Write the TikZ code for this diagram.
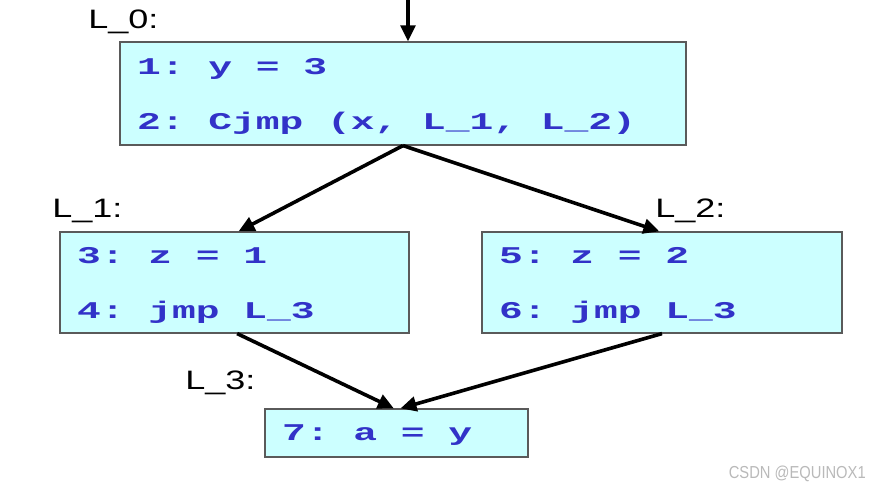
\documentclass[tikz,border=0pt]{standalone}
\usepackage{fontspec}
\usetikzlibrary{arrows.meta}
\newfontfamily\codefont[FakeStretch=1.65]{Liberation Mono}
\newfontfamily\labelfont[FakeStretch=1.35]{Liberation Sans}
\newfontfamily\markfont[FakeStretch=0.85]{Liberation Sans}
\definecolor{boxfill}{RGB}{204,255,255}
\definecolor{boxline}{RGB}{90,90,90}
\definecolor{codeblue}{RGB}{50,50,200}
\definecolor{markgray}{RGB}{185,185,185}
% fixed line height / depth inside the blocks
\newcommand\linetop{\rule{0pt}{20pt}}
\newcommand\linebot[1][7pt]{\rule[-#1]{0pt}{#1}}
% one monospace cell of blank
\newcommand\codesp{\hspace*{17.82pt}}
\tikzset{
  block/.style = {draw = boxline, fill = boxfill, line width = .9pt,
                  align = left, inner xsep = 12.75pt, inner ysep = 0pt,
                  text = codeblue,
                  font = \codefont\bfseries\fontsize{18}{41.25}\selectfont},
  lbl/.style = {anchor = west, inner sep = 0pt,
                font = \labelfont\fontsize{20}{24}\selectfont},
  flow/.style = {-{Triangle[length = 12pt, width = 11pt]}, line width = 2.7pt}
}
\begin{document}
\begin{tikzpicture}[x = .75pt, y = -.75pt]
  \useasboundingbox (0,0) rectangle (869,491);
  % basic blocks
  \node [block, text width = 399pt, minimum height = 77.25pt] (b0) at (403,93.5)
    {\linetop 1:\codesp y\codesp =\codesp 3\\
     2:\codesp Cjmp\codesp (x,\codesp L\_1,\codesp L\_2)\linebot};
  \node [block, text width = 236.25pt, minimum height = 75.75pt] (b1) at (234.5,282.5)
    {\linetop 3:\codesp z\codesp =\codesp 1\\4:\codesp jmp\codesp L\_3\linebot};
  \node [block, text width = 244.5pt, minimum height = 75.75pt] (b2) at (662,282.5)
    {\linetop 5:\codesp z\codesp =\codesp 2\\6:\codesp jmp\codesp L\_3\linebot};
  \node [block, text width = 171.75pt, minimum height = 36pt] (b3) at (396.5,433)
    {\linetop 7:\codesp a\codesp =\codesp y\linebot[8.75pt]};
  % labels
  \node [lbl] (l0) at (88,22) {L\_0:};
  \node [lbl] (l1) at (52,211) {L\_1:};
  \node [lbl] (l2) at (655,211) {L\_2:};
  \node [lbl] (l3) at (185,383) {L\_3:};
  % edges
  \coordinate (entry) at (408,0);
  \draw [flow] (entry) -- (entry |- b0.north);
  \draw [flow] (b0.south) -- ([xshift = 3]b1.north);
  \draw [flow] (b0.south) -- ([xshift = -2]b2.north);
  \draw [flow] ([xshift = 2]b1.south) -- ([xshift = -2]b3.north);
  \draw [flow] (b2.south) -- ([xshift = 3]b3.north);
  \node [anchor = east, inner sep = 0pt, text = markgray,
         font = \markfont\fontsize{13}{15}\selectfont] (mark) at (866,474)
    {CSDN @EQUINOX1};
\end{tikzpicture}
\end{document}
